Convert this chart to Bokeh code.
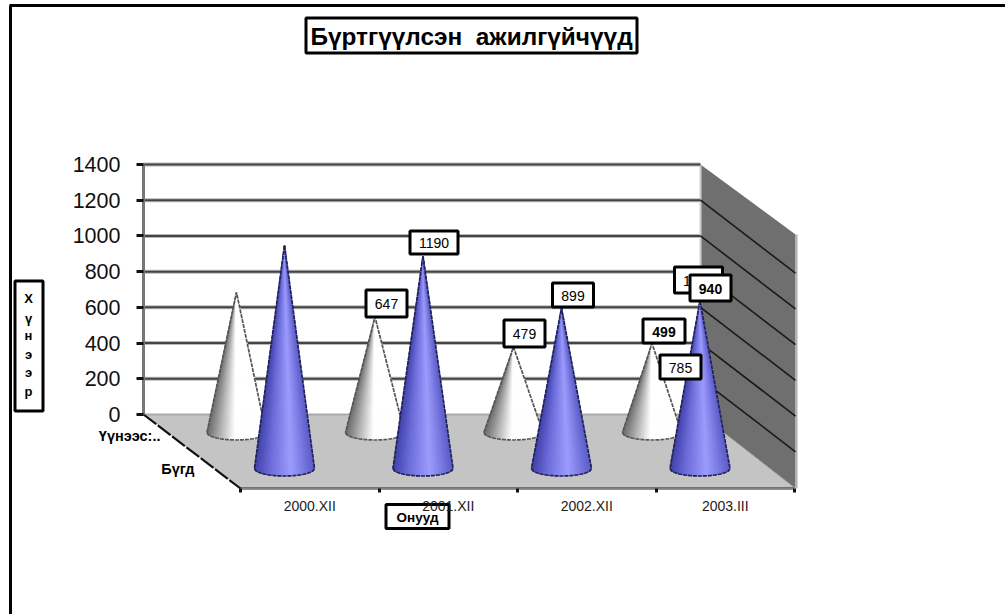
from bokeh.plotting import figure
from bokeh.embed import file_html
from bokeh.resources import INLINE
from bokeh.core.properties import value
from bokeh.models import Range1d, LinearAxis, FixedTicker

# ---- data ----
title_text = "Бүртгүүлсэн  ажилгүйчүүд"
years = ["2000.XII", "2001.XII", "2002.XII", "2003.III"]
series_names = ["Үүнээс:..", "Бүгд"]
white_vals = [785, 647, 479, 499]
blue_vals = [1250, 1190, 899, 940]
y_ticks = [0, 200, 400, 600, 800, 1000, 1200, 1400]
y_title_chars = ["Х", "ү", "н", "э", "э", "р"]
x_title = "Онууд"

# ---- layout (page pixels <-> data scales) ----
W, H = 1005, 614
X0, CAT = 240.0, 138.5        # front floor corner, category width in px
Y0, PPV = 414.0, 250.0 / 1400  # baseline, px per value
FRONT_Y = 488.0


def X(px):
    return (px - X0) / CAT


def Y(py):
    return (Y0 - py) / PPV


p = figure(width=W, height=H, output_backend="svg", toolbar_location=None,
           x_range=Range1d(X(0), X(W)), y_range=Range1d(Y(H), Y(0)),
           x_axis_location=None, y_axis_location=None, min_border=0,
           margin=(0, 0, 0, 0))
p.outline_line_color = None
p.grid.visible = False
p.background_fill_color = "white"
p.border_fill_color = "white"

FONT = value("Liberation Sans")


def poly(pts, fill, line=None, lw=1):
    p.patch([X(a) for a, b in pts], [Y(b) for a, b in pts], fill_color=fill,
            line_color=line, line_width=lw)


# outer frame
p.line([X(10), X(10)], [Y(H), Y(5)], line_color="black", line_width=3)
p.line([X(9), X(W)], [Y(5), Y(5)], line_color="black", line_width=3)

# walls and floor
wall_l, wall_r = 143.0, 700.0
top_py = Y0 - 1400 * PPV
poly([(wall_r, top_py), (795, top_py + 70), (795, FRONT_Y), (wall_r, Y0)], "#6f6f6f")
poly([(wall_l, Y0), (wall_r, Y0), (795, FRONT_Y), (240, FRONT_Y)], "#c4c4c4")
p.line([X(700), X(700)], [Y(top_py), Y(Y0)], line_color="#d0d0d0", line_width=2)
p.line([X(796), X(796)], [Y(top_py + 70), Y(FRONT_Y)], line_color="#b0b0b0", line_width=2)

# grid lines on back wall and side wall
for v in y_ticks:
    if v > 0:
        p.line([X(wall_l), X(wall_r)], [v, v], line_color="#b8b8b8", line_width=4)
        p.line([X(wall_l), X(wall_r)], [v, v], line_color="#444444", line_width=2)
    if 0 < v < 1400:
        py = Y0 - v * PPV
        p.line([X(wall_r), X(795)], [v, Y(py + 73)], line_color="#1a1a1a", line_width=1.6)
p.line([X(wall_l), X(wall_r)], [0, 0], line_color="#a8a8a8", line_width=2)

# depth edge of the floor
p.line([X(wall_l), X(240)], [Y(Y0), Y(FRONT_Y)], line_color="#111111", line_width=2.2, line_dash="16 2")
p.line([X(wall_r), X(795)], [Y(Y0), Y(FRONT_Y)], line_color="#a0a0a0", line_width=1)


def lerp_hex(c1, c2, t):
    a = [int(c1[i:i + 2], 16) for i in (1, 3, 5)]
    b = [int(c2[i:i + 2], 16) for i in (1, 3, 5)]
    return "#%02x%02x%02x" % tuple(round(a[i] + (b[i] - a[i]) * t) for i in range(3))


def shade(stops, t):
    for (t0, c0), (t1, c1) in zip(stops, stops[1:]):
        if t <= t1:
            return lerp_hex(c0, c1, (t - t0) / (t1 - t0))
    return stops[-1][1]


WHITE_STOPS = [(0, "#6a6a6a"), (0.22, "#b0b0b0"), (0.48, "#ffffff"), (1, "#ffffff")]
BLUE_STOPS = [(0, "#3f3fa8"), (0.25, "#6a6ad8"), (0.62, "#9c9cff"), (1, "#5c5cc8")]


def cone(cx, base_py, val, halfw, stops, edge):
    """One cone: height comes from val through the y scale."""
    b = 7.5
    tip = (cx, base_py - val * PPV)
    n = 44
    ts = [i / n for i in range(n + 1)]
    pts = [(cx - halfw + 2 * halfw * t, base_py + b * (max(0.0, 1 - (2 * t - 1) ** 2)) ** 0.5) for t in ts]
    xs, ys, cols = [], [], []
    for i in range(n):
        tri = [tip, pts[i], pts[i + 1]]
        xs.append([X(a) for a, _ in tri])
        ys.append([Y(c) for _, c in tri])
        cols.append(shade(stops, (ts[i] + ts[i + 1]) / 2))
    p.patches(xs, ys, fill_color=cols, line_color=cols, line_width=1)
    outline = [pts[0]] + pts + [tip, pts[0]]
    p.line([X(a) for a, _ in outline], [Y(c) for _, c in outline],
           line_color=edge, line_width=1.7, line_dash="4 1")


WHITE_BASE, BLUE_BASE = 432.0, 468.0
WHITE_DX, BLUE_DX = -4.0, 44.0   # from the front tick of each group, px
for i, v in enumerate(white_vals):
    cone(X0 + CAT * i + WHITE_DX, WHITE_BASE, v, 29.5, WHITE_STOPS, "#555555")
for i, v in enumerate(blue_vals):
    cone(X0 + CAT * i + BLUE_DX, BLUE_BASE, v, 30, BLUE_STOPS, "#222255")

# axes
yax = LinearAxis(fixed_location=X(wall_l), ticker=FixedTicker(ticks=y_ticks), bounds=(0, 1400))
yax.axis_line_color = "#777777"
yax.axis_line_width = 3
yax.major_tick_line_color = "#111111"
yax.major_tick_line_width = 3
yax.major_tick_out = 7
yax.major_tick_in = 0
yax.minor_tick_out = 0
yax.minor_tick_in = 0
yax.major_label_standoff = 16
yax.major_label_text_font = "Liberation Sans"
yax.major_label_text_font_size = "21.5px"
yax.major_label_text_color = "#111111"
p.add_layout(yax, "left")

xtick = LinearAxis(fixed_location=Y(FRONT_Y), ticker=FixedTicker(ticks=list(range(len(years) + 1))),
                   bounds=(0, len(years)))
xtick.axis_line_color = "#222222"
xtick.axis_line_width = 3
xtick.axis_line_dash = "1 1"
xtick.major_tick_line_color = "#111111"
xtick.major_tick_line_width = 3
xtick.major_tick_out = 4
xtick.major_tick_in = 0
xtick.minor_tick_out = 0
xtick.minor_tick_in = 0
xtick.major_label_text_color = None
xtick.major_label_text_font_size = "1px"
p.add_layout(xtick, "below")

xlab = LinearAxis(fixed_location=Y(FRONT_Y), ticker=FixedTicker(ticks=[i + 0.5 for i in range(len(years))]))
xlab.axis_line_color = None
xlab.major_tick_line_color = None
xlab.major_tick_out = 0
xlab.major_tick_in = 0
xlab.minor_tick_out = 0
xlab.minor_tick_in = 0
xlab.major_label_standoff = 9
xlab.major_label_overrides = {i + 0.5: y for i, y in enumerate(years)}
xlab.major_label_text_font = "Liberation Sans"
xlab.major_label_text_font_size = "14px"
xlab.major_label_text_color = "#222222"
p.add_layout(xlab, "below")


def txt(px, py, s, size, bold=False, color="black", align="center"):
    p.text([X(px)], [Y(py)], text=[s], text_font=FONT, text_font_size=size,
           text_font_style="bold" if bold else "normal", text_color=color,
           text_align=align, text_baseline="middle")


def box(px, py, w, h, lw=3):
    p.rect([X(px)], [Y(py)], width=w, height=h, width_units="screen", height_units="screen",
           fill_color="white", line_color="black", line_width=lw)


# depth-axis series names
txt(160, 435, series_names[0], "14.5px", bold=True, align="right")
txt(194, 468, series_names[1], "14.5px", bold=True, align="right")

# data labels: (series, index, x, y, w, h, bold), in stacking order
label_spec = [
    ("b", 0, 698, 279.5, 48, 26, False),
    ("w", 0, 680, 366.5, 41, 24, False),
    ("w", 1, 386, 303, 41, 27, False),
    ("b", 1, 433.5, 242, 48, 23, False),
    ("w", 2, 524, 333, 41, 27, False),
    ("b", 2, 572.5, 294.5, 41, 24, False),
    ("w", 3, 663.5, 330.5, 42, 24, True),
    ("b", 3, 710, 287.5, 41, 26, True),
]
for s, i, lx, ly, w, h, bold in label_spec:
    vals = white_vals if s == "w" else blue_vals
    box(lx, ly, w, h)
    txt(lx, ly + 0.5, str(vals[i]), "14px", bold=bold)

# title
box(471, 35, 331, 35)
txt(471, 35.5, title_text.replace("  ", "\u00a0\u00a0"), "24.4px", bold=True)

# y-axis title
box(28.5, 345.5, 28, 130)
for py, ch in zip([298, 318, 335, 354, 372, 391], y_title_chars):
    txt(28, py, ch, "13px", bold=True)

# x-axis title
box(417, 516, 63, 24)
txt(417, 516.5, x_title, "13.5px", bold=True)

open("out.html", "w").write(file_html(p, INLINE))
